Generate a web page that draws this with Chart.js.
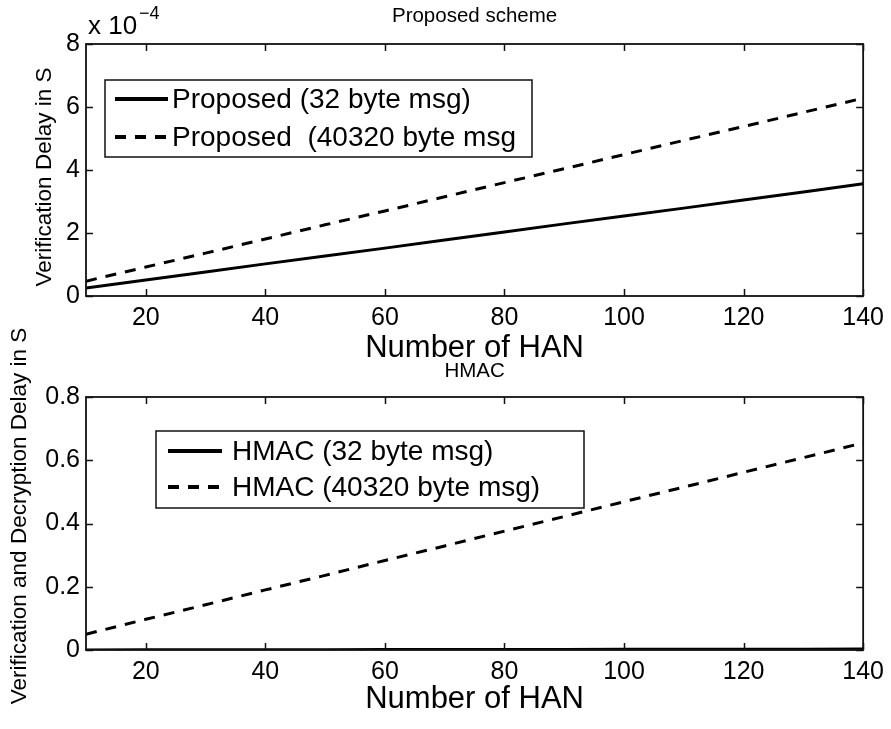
<!DOCTYPE html>
<html><head><meta charset="utf-8">
<script src="https://cdn.jsdelivr.net/npm/chart.js@4"></script>
<style>
html,body{margin:0;padding:0;background:#fff;width:891px;height:729px;overflow:hidden;}
canvas{position:absolute;left:0;}
#c1{top:0;}
#c2{top:300px;}
</style></head><body>
<canvas id="c1" width="891" height="365"></canvas>
<canvas id="c2" width="891" height="429"></canvas>
<script>
// ---- data ----
const hanCounts = [10,20,30,40,50,60,70,80,90,100,110,120,130,140];
const xTickValues = [20,40,60,80,100,120,140];
// top panel, units of 10^-4 s
const proposed32 = [0.25,0.51,0.76,1.02,1.27,1.52,1.78,2.03,2.29,2.54,2.79,3.05,3.30,3.56];
const proposed40320 = [0.47,0.92,1.36,1.81,2.26,2.70,3.15,3.60,4.04,4.49,4.94,5.38,5.83,6.28];
// bottom panel, seconds
const hmac32 = [0.0002,0.0004,0.0006,0.0008,0.0010,0.0012,0.0014,0.0016,0.0018,0.0020,0.0022,0.0024,0.0026,0.0028];
const hmac40320 = [0.050,0.097,0.143,0.190,0.236,0.283,0.329,0.376,0.422,0.469,0.515,0.562,0.608,0.655];
const topYTickValues = [0,2,4,6,8];
const bottomYTickValues = [0,0.2,0.4,0.6,0.8];
const topLabels = ["Proposed (32 byte msg)", "Proposed  (40320 byte msg"];
const bottomLabels = ["HMAC (32 byte msg)", "HMAC (40320 byte msg)"];

const FONT = "'Liberation Sans', Arial, Helvetica, sans-serif";

function pts(ys){ return hanCounts.map((x,i)=>({x:x,y:ys[i]})); }

// inward ticks on all four sides + box
const matlabAxes = {
  id:'matlabAxes',
  afterDatasetsDraw(chart, args, o){
    const {ctx, chartArea:a, scales} = chart;
    const L = o.tickLen || 7;
    ctx.save();
    ctx.strokeStyle = '#111';
    ctx.lineWidth = o.lineWidth || 1.5;
    ctx.beginPath();
    scales.x.ticks.forEach(t=>{
      const p = Math.round(scales.x.getPixelForValue(t.value))+0.5;
      ctx.moveTo(p, a.bottom); ctx.lineTo(p, a.bottom-L);
      ctx.moveTo(p, a.top); ctx.lineTo(p, a.top+L);
    });
    scales.y.ticks.forEach(t=>{
      const p = Math.round(scales.y.getPixelForValue(t.value))+0.5;
      ctx.moveTo(a.left, p); ctx.lineTo(a.left+L, p);
      ctx.moveTo(a.right, p); ctx.lineTo(a.right-L, p);
    });
    ctx.stroke();
    ctx.lineWidth = o.boxWidth || 1.8;
    ctx.strokeRect(a.left, a.top, a.right-a.left, a.bottom-a.top);
    ctx.restore();
  }
};

// MATLAB-style boxed legend inside the axes
const boxLegend = {
  id:'boxLegend',
  afterDraw(chart, args, o){
    const {ctx, chartArea:a} = chart;
    const bx = a.left + o.dx, by = a.top + o.dy;
    ctx.save();
    ctx.fillStyle = '#fff';
    ctx.fillRect(bx, by, o.w, o.h);
    ctx.strokeStyle = '#111'; ctx.lineWidth = 1.5;
    ctx.strokeRect(bx, by, o.w, o.h);
    ctx.font = o.fontSize + 'px ' + FONT;
    ctx.textBaseline = 'middle';
    ctx.fillStyle = '#000';
    chart.data.datasets.forEach((ds,i)=>{
      const y = by + o.rows[i];
      ctx.beginPath();
      ctx.setLineDash(ds.borderDash || []);
      ctx.lineWidth = (ds.borderWidth||3) + 1;
      ctx.strokeStyle = ds.borderColor;
      ctx.moveTo(bx + o.lineX, y); ctx.lineTo(bx + o.lineX + o.lineLen, y);
      ctx.stroke();
      ctx.setLineDash([]);
      ctx.fillText(ds.label, bx + o.textX, y + 1);
    });
    ctx.restore();
  }
};

// titles / exponent text / rotated y-axis titles
const annot = {
  id:'annot',
  afterDraw(chart, args, o){
    const {ctx, chartArea:a} = chart;
    ctx.save();
    ctx.fillStyle = '#000';
    (o.items||[]).forEach(it=>{
      ctx.save();
      ctx.font = it.size + 'px ' + FONT;
      ctx.textAlign = it.align || 'left';
      ctx.textBaseline = it.baseline || 'alphabetic';
      const x = it.center ? (a.left + a.right)/2 : a.left + it.dx;
      if (it.rotate) {
        ctx.translate(it.x, it.y);
        ctx.rotate(-Math.PI/2);
        ctx.fillText(it.text, 0, 0);
      } else {
        ctx.fillText(it.text, x, it.y);
      }
      ctx.restore();
    });
    ctx.restore();
  }
};

function makeOptions(cfg){
  return {
    responsive:false, animation:false, devicePixelRatio:1,
    layout:{padding:{top:cfg.padTop, right:27, bottom:0, left:0}},
    plugins:{
      legend:{display:false}, title:{display:false}, tooltip:{enabled:false},
      matlabAxes:{tickLen:7, lineWidth:1.5, boxWidth:1.8},
      boxLegend:cfg.legend,
      annot:{items:cfg.annot}
    },
    scales:{
      x:{
        type:'linear', min:10, max:140,
        grid:{display:false, drawTicks:false},
        border:{display:false},
        afterBuildTicks:s=>{ s.ticks = xTickValues.map(v=>({value:v})); },
        afterFit:s=>{ s.height = cfg.xHeight; },
        ticks:{color:'#000', padding:7, font:{family:FONT, size:25}, callback:v=>String(v)},
        title:{display:true, text:'Number of HAN', color:'#000',
          font:{family:FONT, size:31, lineHeight:1}, padding:{top:0, bottom:cfg.xTitlePad}}
      },
      y:{
        type:'linear', min:cfg.yMin, max:cfg.yMax,
        grid:{display:false, drawTicks:false},
        border:{display:false},
        afterBuildTicks:s=>{ s.ticks = cfg.yTicks.map(v=>({value:v})); },
        afterFit:s=>{ s.width = 86; },
        ticks:{color:'#000', padding:6, font:{family:FONT, size:25}, callback:v=>String(v)},
        title:{display:false, text:cfg.yTitle}
      }
    }
  };
}

function ds(label, ys, dashed){
  return {label:label, data:pts(ys), borderColor:'#000', backgroundColor:'#000',
    borderWidth:3, borderDash:dashed?[11,9]:[], pointRadius:0, tension:0, fill:false};
}

new Chart(document.getElementById('c1'), {
  type:'line',
  data:{datasets:[ds(topLabels[0], proposed32, false), ds(topLabels[1], proposed40320, true)]},
  options:makeOptions({
    padTop:44, xHeight:69, xTitlePad:1.5, yMin:0, yMax:8, yTicks:topYTickValues,
    yTitle:'Verification Delay in S',
    legend:{dx:19, dy:36, w:427, h:77, rows:[19,57], lineX:10, lineLen:53, textX:67, fontSize:28},
    annot:[
      {text:'Proposed scheme', size:20.5, center:true, align:'center', y:22},
      {text:'x 10', size:26, dx:2, y:34},
      {text:'\u22124', size:18, dx:53, y:19},
      {text:'Verification Delay in S', size:22.5, rotate:true, x:45, y:177, align:'center', baseline:'middle'}
    ]
  }),
  plugins:[matlabAxes, boxLegend, annot]
});

new Chart(document.getElementById('c2'), {
  type:'line',
  data:{datasets:[ds(bottomLabels[0], hmac32, false), ds(bottomLabels[1], hmac40320, true)]},
  options:makeOptions({
    padTop:97, xHeight:79, xTitlePad:14, yMin:0, yMax:0.8, yTicks:bottomYTickValues,
    yTitle:'Verification and Decryption Delay in S',
    legend:{dx:70, dy:34, w:428, h:77, rows:[20,56], lineX:12, lineLen:54, textX:76, fontSize:28},
    annot:[
      {text:'HMAC', size:20.5, center:true, align:'center', y:77},
      {text:'Verification and Decryption Delay in S', size:22.5, rotate:true, x:20, y:216, align:'center', baseline:'middle'}
    ]
  }),
  plugins:[matlabAxes, boxLegend, annot]
});
</script>
</body></html>
